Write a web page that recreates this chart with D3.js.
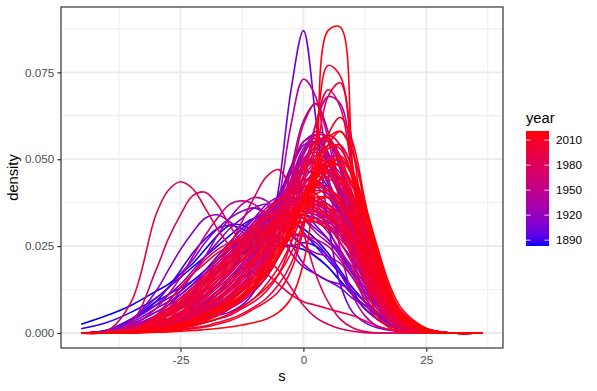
<!DOCTYPE html>
<html>
<head>
<meta charset="utf-8">
<script src="https://cdn.jsdelivr.net/npm/d3@7/dist/d3.min.js"></script>
<style>
    body { margin: 0; background: #fff; }
    text { font-family: "Liberation Sans", Arial, Helvetica, sans-serif; }
</style>
</head>
<body>
<script>
var sGrid = [-45.2, -40, -35, -30, -27.5, -25, -22.5, -20, -17.5, -15, -12.5, -10, -7.5, -5,
    -2.5, 0, 2.5, 5, 7.5, 10, 12.5, 15, 17.5, 20, 25, 30, 36.5];

var curveYears = [1883, 1884, 1885, 1886, 1887, 1888, 1889, 1891, 1892, 1894, 1895, 1897, 1898,
    1900, 1901, 1903, 1904, 1906, 1907, 1909, 1911, 1912, 1914, 1915, 1917, 1918, 1920, 1921,
    1923, 1924, 1926, 1927, 1929, 1930, 1932, 1933, 1935, 1936, 1938, 1939, 1941, 1942, 1944,
    1945, 1947, 1948, 1950, 1951, 1953, 1954, 1956, 1957, 1959, 1960, 1962, 1963, 1965, 1966,
    1968, 1969, 1971, 1972, 1974, 1975, 1976, 1977, 1978, 1979, 1980, 1981, 1982, 1983, 1984,
    1985, 1986, 1987, 1988, 1989, 1990, 1991, 1992, 1993, 1994, 1995, 1996, 1997, 1998, 1999,
    2000, 2001, 2002, 2003, 2004, 2005, 2006, 2007, 2008, 2009, 2010, 2011, 2012, 2013, 2014,
    2015, 2016, 2017, 2018, 2019, 2020, 2021];

// density of s for each year (x 1000), same order as curveYears, one value per sGrid point
var densityMilli = [
    [2.5, 5, 8, 12, 14, 17, 20, 24, 28, 31, 31, 29, 27, 26, 25, 24, 22, 19, 15, 11, 7, 4, 2, 1, 0.3, 0, 0], // 1883
    [0, 0.8, 4, 9, 11, 13, 15, 18, 21, 24, 27, 30, 32, 33, 32, 30, 27, 23, 18, 13, 9, 5.5, 3, 1.5, 0.3, 0, 0], // 1884
    [1.2, 3, 6, 10, 13, 16, 19, 22, 25, 28, 31, 33, 33, 31, 28, 25, 22, 19, 15, 11, 8, 5, 3, 1.5, 0.3, 0, 0], // 1885
    [0, 0.2, 1, 3, 4, 6, 8, 11, 14, 18, 22, 27, 32, 37, 41, 44, 44, 41, 35, 27, 19, 12, 7, 4, 1, 0, 0], // 1886
    [0, 0.3, 1.5, 4, 5, 7, 9, 11, 14, 17, 21, 25, 30, 36, 42, 46, 46, 42, 35, 26, 18, 11, 6, 3, 0.6, 0, 0], // 1887
    [0, 0.5, 3.5, 9, 13, 18, 23, 27, 30, 31, 30, 28, 26, 25, 25, 26, 25, 22, 17, 12, 7, 4, 2, 1, 0.2, 0, 0], // 1888
    [0, 0.8, 4, 8, 10, 12, 15, 18, 22, 26, 30, 33, 35, 35, 33, 29, 25, 21, 17, 13, 9, 6, 3.5, 2, 0.4, 0, 0], // 1889
    [0, 0.3, 1, 2, 3, 4, 6, 8, 11, 15, 20, 26, 33, 40, 46, 50, 49, 43, 34, 24, 15, 9, 5, 2.5, 0.5, 0, 0], // 1891
    [0, 0.3, 1.5, 4, 5, 7, 9, 12, 15, 18, 22, 26, 31, 37, 43, 48, 50, 47, 39, 28, 17, 9, 4.5, 2, 0.4, 0, 0], // 1892
    [0, 0.3, 1, 3, 5, 7, 10, 13, 17, 21, 25, 29, 33, 36, 38, 39, 38, 35, 30, 24, 18, 12, 7, 4, 1, 0, 0], // 1894
    [0, 0.6, 3, 7, 9, 11, 14, 17, 20, 24, 28, 32, 35, 37, 37, 35, 31, 27, 22, 17, 12, 8, 5, 3, 0.8, 0, 0], // 1895
    [0, 0.3, 1.5, 5, 7, 9, 12, 15, 18, 22, 26, 30, 35, 39, 41, 40, 36, 30, 23, 17, 12, 8, 5, 3, 1, 0, 0], // 1897
    [0, 0.2, 1.2, 3, 4, 5, 7, 9, 11, 14, 18, 23, 30, 39, 48, 55, 57, 52, 41, 28, 16, 8, 4, 2, 0.4, 0, 0], // 1898
    [0, 0.3, 1, 2, 2.5, 3, 3.5, 4, 5, 6, 8, 12, 22, 42, 70, 87, 62, 32, 14, 6, 3, 1.5, 0.8, 0.4, 0.1, 0, 0], // 1900
    [0, 0.5, 2.5, 6, 8, 10, 13, 16, 19, 22, 25, 28, 31, 33, 34, 34, 33, 31, 28, 24, 19, 13, 8, 4, 1, 0, 0], // 1901
    [0, 0.2, 0.6, 2, 3, 4, 6, 8, 10, 13, 17, 22, 29, 38, 47, 54, 55, 49, 39, 27, 16, 9, 4, 2, 0.4, 0, 0], // 1903
    [0, 0.3, 2, 5, 7, 9, 12, 15, 18, 21, 24, 27, 30, 33, 36, 38, 38, 36, 32, 26, 19, 12, 7, 3.5, 0.8, 0, 0], // 1904
    [0, 0.6, 4, 10, 13, 17, 21, 26, 30, 33, 35, 36, 34, 29, 23, 19, 17, 15, 13, 10, 8, 5, 3, 2, 0.5, 0, 0], // 1906
    [0, 0.2, 1.2, 3, 4, 5.5, 7, 9, 12, 15, 19, 24, 30, 37, 44, 50, 52, 49, 42, 32, 21, 12, 6, 2.5, 0.5, 0, 0], // 1907
    [0, 0.5, 3.5, 8, 11, 14, 18, 22, 26, 30, 33, 36, 37, 34, 26, 20, 17, 15, 14, 12, 9, 6, 3.5, 2, 0.5, 0, 0], // 1909
    [0, 0.3, 3.5, 12, 18, 24, 29, 33, 34, 32, 29, 27, 26, 27, 28, 28, 26, 22, 17, 11, 7, 4, 2, 1, 0.2, 0, 0], // 1911
    [0, 0.4, 2.5, 6, 8, 11, 14, 18, 22, 26, 30, 33, 35, 36, 35, 33, 30, 27, 23, 18, 13, 8, 4.5, 2.5, 0.6, 0, 0], // 1912
    [0, 0.2, 0.8, 2, 3, 5, 7, 9, 12, 15, 19, 24, 30, 37, 44, 50, 53, 51, 44, 33, 22, 13, 7, 3.5, 0.7, 0, 0], // 1914
    [0, 0.3, 1, 2.5, 3.5, 5, 7, 9, 12, 15, 19, 24, 30, 36, 42, 47, 50, 49, 44, 35, 24, 14, 7, 3, 0.5, 0, 0], // 1915
    [0, 0.2, 0.5, 1.5, 2, 3, 4, 5, 7, 9, 12, 16, 22, 32, 47, 61, 66, 58, 40, 22, 11, 5, 2.5, 1, 0.2, 0, 0], // 1917
    [0, 0.3, 1.5, 4.5, 6, 8, 11, 14, 17, 21, 25, 29, 32, 35, 37, 38, 38, 37, 34, 29, 22, 14, 8, 4, 0.8, 0, 0], // 1918
    [0, 0.3, 2, 5, 7, 9, 12, 15, 19, 23, 27, 31, 35, 38, 39, 38, 35, 31, 26, 21, 15, 10, 6, 3, 0.8, 0, 0], // 1920
    [0, 0.2, 0.6, 1.5, 2.5, 3.5, 5, 6.5, 8.5, 11, 14, 18, 24, 32, 42, 52, 58, 56, 47, 33, 19, 10, 4.5, 2, 0.3, 0, 0], // 1921
    [0, 0.1, 0.3, 1, 1.5, 2, 3, 4, 5, 7, 9, 12, 16, 22, 31, 45, 60, 68, 66, 48, 27, 12, 5, 2, 0.3, 0, 0], // 1923
    [0, 0.2, 1.5, 4.5, 6.5, 9, 12, 15, 18, 22, 26, 30, 33, 35, 36, 36, 35, 33, 30, 25, 18, 12, 6.5, 3, 0.6, 0, 0], // 1924
    [0, 0.3, 1, 3, 5, 7, 10, 13, 16, 20, 24, 29, 34, 38, 40, 40, 38, 34, 29, 23, 17, 11, 6, 3, 0.7, 0, 0], // 1926
    [0, 0.2, 0.7, 2, 3, 4.5, 6.5, 8.5, 11, 14, 18, 23, 29, 36, 44, 50, 53, 50, 42, 31, 20, 11, 5.5, 2.5, 0.4, 0, 0], // 1927
    [0, 0.2, 1.5, 5, 7, 10, 13, 17, 21, 25, 29, 33, 37, 39, 37, 33, 29, 26, 23, 19, 14, 9, 5, 2.5, 0.5, 0, 0], // 1929
    [0, 0.2, 1.2, 4, 6, 8.5, 11.5, 15, 19, 23, 27, 31, 34, 36, 37, 36, 34, 32, 29, 24, 18, 11, 6, 3, 0.6, 0, 0], // 1930
    [0, 0.3, 1.5, 5, 8, 12, 17, 22, 28, 33, 37, 39, 38, 34, 29, 25, 23, 22, 20, 16, 11, 7, 4, 2, 0.4, 0, 0], // 1932
    [0, 0.1, 0.5, 1.5, 2.5, 3.5, 5, 7, 9.5, 12.5, 16, 21, 27, 35, 44, 52, 55, 52, 42, 29, 17, 9, 4, 1.8, 0.3, 0, 0], // 1933
    [0, 0.2, 0.8, 2.5, 4, 6, 8, 11, 14, 18, 23, 28, 33, 38, 42, 44, 43, 40, 34, 26, 18, 11, 6, 3, 0.6, 0, 0], // 1935
    [0, 0.3, 1.2, 3.5, 5.5, 8, 11, 14, 18, 22, 26, 30, 33, 35, 36, 36, 35, 33, 30, 25, 19, 12, 7, 3.5, 0.7, 0, 0], // 1936
    [0, 0.1, 0.4, 1.5, 2, 3, 4.5, 6, 8, 11, 14, 19, 25, 33, 44, 53, 56, 51, 40, 27, 16, 9, 4.5, 2, 0.4, 0, 0], // 1938
    [0, 0.1, 0.4, 1.2, 2, 3, 4.5, 6, 8, 10.5, 14, 18, 24, 31, 40, 49, 55, 55, 48, 36, 22, 12, 5.5, 2.5, 0.4, 0, 0], // 1939
    [0, 0.2, 0.8, 2.5, 4, 5.5, 7.5, 10, 13, 16, 20, 25, 30, 35, 39, 42, 42, 39, 34, 27, 19, 12, 7, 3.5, 0.7, 0, 0], // 1941
    [0, 0.2, 1, 3, 5, 7.5, 10.5, 14, 18, 22, 26, 29, 32, 34, 35, 35, 34, 33, 31, 27, 21, 14, 8, 4, 0.8, 0, 0], // 1942
    [0, 0.1, 0.3, 1, 1.5, 2, 3, 4, 5, 7, 10, 14, 22, 38, 60, 73, 68, 46, 24, 11, 5, 2, 1, 0.4, 0, 0, 0], // 1944
    [0, 0.1, 0.5, 1.5, 2.5, 3.5, 5, 7, 9, 12, 15, 19, 25, 32, 40, 47, 51, 50, 44, 34, 22, 12, 6, 2.5, 0.4, 0, 0], // 1945
    [0, 0.3, 1, 3, 5, 7, 9, 12, 15, 19, 23, 27, 31, 35, 38, 39, 38, 36, 32, 26, 19, 12, 7, 3.5, 0.7, 0, 0], // 1947
    [0, 0.2, 1, 3, 5, 7, 10, 13, 16, 20, 24, 28, 32, 36, 38, 39, 38, 35, 31, 25, 18, 11, 6, 3, 0.6, 0, 0], // 1948
    [0, 0.3, 1.5, 4, 6, 8, 11, 14, 18, 22, 27, 32, 36, 38, 38, 36, 33, 29, 24, 18, 12, 7, 4, 2, 0.4, 0, 0], // 1950
    [0, 0.1, 0.3, 1, 1.8, 2.8, 4, 5.5, 7.5, 10, 13, 17, 22, 29, 38, 48, 55, 56, 49, 36, 22, 11, 5, 2, 0.3, 0, 0], // 1951
    [0, 0.1, 0.5, 1.5, 2.5, 3.5, 5, 7, 9, 12, 16, 21, 28, 37, 47, 55, 56, 50, 38, 25, 14, 7, 3.5, 1.5, 0.3, 0, 0], // 1953
    [0, 0.3, 1.5, 4.5, 7, 10, 13, 17, 21, 25, 28, 31, 33, 34, 34, 33, 32, 30, 28, 25, 20, 13, 7.5, 3.5, 0.7, 0, 0], // 1954
    [0, 0.2, 1, 3, 5, 7, 10, 13, 17, 21, 25, 30, 35, 39, 41, 40, 37, 33, 28, 22, 15, 9, 5, 2.5, 0.5, 0, 0], // 1956
    [0, 0.1, 0.5, 1.5, 2.5, 4, 5.5, 7.5, 10, 13, 17, 22, 28, 35, 42, 47, 49, 47, 41, 32, 22, 13, 6.5, 3, 0.5, 0, 0], // 1957
    [0, 0.3, 2, 7, 11, 16, 22, 28, 33, 37, 38, 37, 34, 31, 29, 28, 27, 25, 21, 16, 10, 6, 3, 1.5, 0.3, 0, 0], // 1959
    [0, 0.2, 1, 3.5, 5.5, 8, 11, 14, 18, 22, 26, 30, 33, 36, 38, 38, 37, 35, 31, 26, 19, 12, 6.5, 3, 0.6, 0, 0], // 1960
    [0, 0.1, 0.4, 1.5, 2.5, 4, 6, 8, 11, 14, 18, 23, 29, 36, 43, 48, 49, 46, 39, 30, 20, 12, 6, 3, 0.5, 0, 0], // 1962
    [0, 0.1, 0.3, 1, 1.6, 2.4, 3.5, 5, 7, 9.5, 13, 17, 23, 31, 41, 51, 57, 56, 47, 33, 19, 9.5, 4.5, 2, 0.3, 0, 0], // 1963
    [0, 0.2, 1, 4, 6, 9, 12, 16, 20, 24, 28, 31, 34, 36, 37, 37, 36, 34, 30, 24, 17, 11, 6, 3, 0.6, 0, 0], // 1965
    [0, 0.2, 0.8, 3, 5, 7, 9.5, 12.5, 16, 20, 24, 28, 32, 35, 37, 38, 38, 36, 32, 26, 19, 12, 6.5, 3, 0.6, 0, 0], // 1966
    [0, 0.1, 0.5, 2, 3, 5, 7, 9, 12, 15, 19, 24, 30, 37, 44, 49, 49, 44, 35, 25, 16, 9, 5, 2.5, 0.5, 0, 0], // 1968
    [0, 0.1, 0.4, 1.5, 2.5, 3.5, 5, 7, 9.5, 12.5, 16, 20, 25, 31, 38, 44, 48, 48, 45, 37, 26, 15, 7.5, 3.5, 0.6, 0, 0], // 1969
    [0, 0.2, 0.8, 3, 5, 7, 10, 13, 17, 21, 26, 31, 35, 38, 39, 38, 35, 31, 26, 20, 14, 9, 5, 2.5, 0.5, 0, 0], // 1971
    [0, 0.2, 1.2, 4, 6.5, 9, 12, 15.5, 19, 23, 27, 30, 33, 35, 36, 36, 35, 33, 30, 25, 18, 11, 6, 3, 0.6, 0, 0], // 1972
    [0, 0.1, 0.5, 2, 3, 4.5, 6.5, 9, 12, 16, 20, 25, 30, 35, 39, 42, 43, 41, 37, 30, 21, 13, 7, 3.5, 0.7, 0, 0], // 1974
    [0, 0.1, 0.6, 2.5, 4, 6, 8.5, 11, 14, 17.5, 21, 25, 29, 33, 37, 40, 41, 40, 36, 30, 22, 14, 7.5, 3.5, 0.7, 0, 0], // 1975
    [0, 0.1, 0.3, 1, 1.7, 2.6, 3.8, 5.3, 7.2, 9.5, 12.5, 16, 21, 28, 37, 47, 54, 56, 51, 40, 26, 14, 6.5, 2.8, 0.4, 0, 0], // 1976
    [0, 0, 0.3, 1.2, 2, 3, 4.5, 6, 8, 10.5, 13.5, 17, 22, 28, 35, 42, 47, 49, 46, 39, 28, 17, 9, 4, 0.7, 0, 0], // 1977
    [0, 0.2, 3, 18, 27, 34, 39.5, 40.5, 37, 31, 26, 23, 21, 18, 13, 8, 4.5, 2.5, 1.2, 0.5, 0.1, 0, 0, 0, 0, 0, 0], // 1978
    [0, 0.2, 1.2, 4.5, 7, 10, 13, 16, 19, 22, 25, 27, 29, 31, 33, 34, 35, 34, 32, 28, 22, 14, 8, 4, 0.8, 0, 0], // 1979
    [0, 0.1, 0.5, 1.5, 2.5, 4, 5.5, 7.5, 10, 13, 16, 20, 25, 31, 38, 45, 49, 49, 44, 35, 24, 14, 7, 3, 0.5, 0, 0], // 1980
    [0, 0.1, 0.3, 1, 1.5, 2, 3, 4, 5.5, 7.5, 10, 13, 18, 27, 44, 60, 66, 56, 37, 20, 9, 4, 2, 0.8, 0.1, 0, 0], // 1981
    [0, 0.1, 0.5, 1.5, 3, 5, 8, 12, 18, 25, 32, 39, 45, 47, 41, 29, 17, 9, 4, 1.5, 0.4, 0, 0, 0, 0, 0, 0], // 1982
    [0, 0.2, 1, 3.5, 5.5, 8, 11, 14, 17, 20, 23, 26, 29, 32, 35, 37, 38, 37, 34, 29, 22, 14, 8, 4, 0.8, 0, 0], // 1983
    [0, 0, 0.2, 0.8, 1.4, 2.2, 3.2, 4.5, 6, 8, 10.5, 13.5, 17.5, 23, 30, 39, 48, 54, 53, 45, 32, 18, 8.5, 3.5, 0.5, 0, 0], // 1984
    [0, 0, 0.2, 1, 1.5, 2.5, 4, 6, 8, 11, 15, 20, 26, 32, 38, 43, 46, 46, 42, 35, 26, 17, 9, 4, 0.7, 0, 0], // 1985
    [0, 0, 0.2, 0.8, 1.4, 2.2, 3.2, 4.5, 6, 8, 10.5, 14, 19, 26, 35, 45, 53, 57, 54, 44, 30, 16, 7.5, 3, 0.5, 0, 0], // 1986
    [0, 0.1, 0.6, 2.5, 4, 6, 8, 10.5, 13.5, 17, 21, 25, 29, 33, 37, 40, 42, 41, 38, 32, 24, 15, 8, 4, 0.8, 0, 0], // 1987
    [0, 0.5, 9, 34, 41, 43.5, 41.5, 36, 30, 25, 21, 19, 17, 14, 11, 9, 8, 7, 6, 5, 3.5, 2, 1, 0.3, 0, 0, 0], // 1988
    [0, 0, 0.1, 0.5, 1, 1.5, 2, 3, 4, 5, 7, 9, 12, 17, 26, 42, 60, 70, 65, 45, 24, 11, 5, 2, 0.3, 0, 0], // 1989
    [0, 0.1, 0.8, 3.5, 6, 9, 12, 15, 18, 21, 24, 27, 30, 33, 35, 37, 37, 36, 33, 28, 21, 14, 8, 4, 0.8, 0, 0], // 1990
    [0, 0.1, 0.5, 2, 3, 4.5, 6, 8, 10, 13, 16, 20, 24, 29, 34, 39, 43, 45, 44, 39, 31, 21, 12, 6, 1.2, 0, 0], // 1991
    [0, 0, 1, 5, 9, 13, 17, 21, 24, 26, 27, 28, 29, 30, 32, 34, 35, 34, 31, 26, 19, 12, 7, 3.5, 0.7, 0, 0], // 1992
    [0, 0, 0.3, 1.5, 2.5, 4, 6, 8, 11, 14, 18, 22, 27, 32, 37, 41, 43, 42, 38, 31, 22, 14, 8, 4, 0.8, 0, 0], // 1993
    [0, 0, 0.5, 3, 6, 9, 12, 15, 18, 21, 24, 27, 30, 33, 36, 38, 39, 37, 33, 27, 20, 13, 7, 3.5, 0.7, 0, 0], // 1994
    [0, 0, 0.2, 1, 2, 3, 4.5, 6, 8, 11, 14, 18, 23, 28, 34, 40, 45, 47, 45, 39, 29, 18, 10, 5, 1, 0, 0], // 1995
    [0, 0, 0.3, 2, 4, 7, 10, 14, 18, 22, 26, 29, 31, 32, 32, 32, 32, 32, 31, 28, 22, 15, 9, 4.5, 0.9, 0, 0], // 1996
    [0, 0.2, 1, 4, 6, 8, 11, 14, 18, 22, 26, 30, 33, 35, 35, 34, 32, 30, 27, 23, 18, 12, 7, 3.5, 0.7, 0, 0], // 1997
    [0, 0, 0.2, 1.5, 3, 5, 8, 11, 15, 19, 24, 29, 34, 38, 41, 42, 40, 36, 30, 23, 16, 10, 5.5, 2.5, 0.5, 0, 0], // 1998
    [0, 0, 0.1, 0.4, 0.7, 1, 1.5, 2, 3, 4, 5.5, 7.5, 10, 14, 20, 31, 50, 68, 72, 54, 29, 12, 5, 2, 0.3, 0, 0], // 1999
    [0, 0, 0.8, 5, 9, 13, 17, 20, 23, 25, 27, 28, 29, 30, 31, 32, 33, 33, 31, 27, 21, 14, 8, 4, 0.8, 0, 0], // 2000
    [0, 0, 0.3, 1.5, 2.5, 4, 5.5, 7.5, 10, 13, 16, 20, 24, 28, 33, 38, 42, 44, 43, 38, 29, 19, 11, 5.5, 1.2, 0, 0], // 2001
    [0, 0, 0.1, 0.5, 1, 1.5, 2.5, 3.5, 5, 7, 10, 14, 20, 28, 38, 48, 55, 56, 50, 38, 24, 13, 6, 2.5, 0.4, 0, 0], // 2002
    [0, 0.1, 0.8, 3, 5, 7, 10, 13, 16, 19, 22, 25, 28, 31, 34, 36, 37, 36, 33, 28, 21, 14, 8, 4, 0.8, 0, 0], // 2003
    [0, 0, 0.5, 3, 6, 9, 13, 17, 21, 25, 28, 31, 33, 34, 34, 33, 32, 31, 29, 26, 21, 15, 9, 4.5, 0.9, 0, 0], // 2004
    [0, 0, 0.2, 1, 2, 3, 4, 5.5, 7.5, 10, 13, 17, 21, 26, 32, 38, 43, 46, 45, 40, 31, 21, 12, 6, 1.2, 0, 0], // 2005
    [0, 0, 0.2, 1, 2, 3, 4.5, 6.5, 9, 12, 16, 21, 27, 34, 41, 47, 50, 49, 44, 36, 26, 16, 8, 3.5, 0.6, 0, 0], // 2006
    [0, 0, 0.1, 0.8, 1.5, 2.5, 3.5, 5, 7, 9, 12, 15, 19, 24, 30, 37, 44, 49, 50, 45, 35, 23, 12, 6, 1, 0, 0], // 2007
    [0, 0, 0.6, 4, 7, 10, 13, 16, 19, 22, 25, 28, 31, 33, 35, 36, 36, 34, 31, 26, 20, 13, 7.5, 3.5, 0.7, 0, 0], // 2008
    [0, 0, 0.1, 0.3, 0.5, 0.8, 1.2, 1.7, 2.5, 3.5, 5, 7, 9, 12, 18, 30, 55, 77, 74, 48, 22, 9, 3.5, 1.5, 0.2, 0, 0], // 2009
    [0, 0, 0.1, 0.4, 0.8, 1.2, 2, 3, 4, 5.5, 7.5, 10, 14, 19, 26, 35, 46, 57, 62, 55, 38, 20, 9, 3.5, 0.5, 0, 0], // 2010
    [0, 0, 0.2, 1, 1.8, 2.8, 4, 5.5, 7.5, 10, 13, 16, 20, 25, 31, 38, 45, 50, 51, 46, 36, 24, 13, 6, 1, 0, 0], // 2011
    [0, 0, 0.3, 2, 4, 6, 9, 12, 15, 18, 21, 24, 27, 30, 33, 36, 38, 39, 37, 33, 26, 17, 9.5, 4.5, 0.9, 0, 0], // 2012
    [0, 0, 0.4, 2, 3.5, 5, 7, 9.5, 12, 15, 18, 21, 25, 29, 33, 37, 40, 41, 39, 34, 26, 17, 10, 5, 1, 0, 0], // 2013
    [0, 0, 0.1, 0.6, 1.2, 2, 3, 4.5, 6, 8, 11, 15, 20, 26, 33, 40, 46, 49, 48, 42, 31, 19, 10, 4.5, 0.8, 0, 0], // 2014
    [0, 0, 0.2, 1, 1.5, 2.5, 3.5, 5, 6.5, 8.5, 11, 14, 18, 23, 29, 37, 46, 53, 54, 47, 34, 20, 10, 4.5, 0.8, 0, 0], // 2015
    [0, 0, 0.4, 3, 5, 8, 11, 14, 17, 20, 23, 26, 29, 32, 35, 37, 39, 39, 37, 32, 24, 15, 8.5, 4, 0.8, 0, 0], // 2016
    [0, 0, 0.1, 0.6, 1, 1.5, 2.2, 3, 4, 5.5, 7.5, 10, 13, 17, 23, 32, 44, 54, 58, 52, 37, 21, 10, 4, 0.6, 0, 0], // 2017
    [0, 0, 0.1, 0.5, 1, 1.6, 2.5, 3.5, 5, 7, 9.5, 12.5, 16.5, 22, 29, 38, 48, 56, 58, 52, 38, 22, 11, 4.5, 0.7, 0, 0], // 2018
    [0, 0, 0, 0.2, 0.3, 0.5, 0.7, 1, 1.3, 1.7, 2.3, 3, 4, 6, 10, 20, 43, 87, 88, 48, 18, 5, 1.5, 0.5, 0.1, 0, 0], // 2019
    [0, 0, 0.2, 1, 1.5, 2.5, 3.5, 5, 7, 9, 12, 15, 19, 24, 30, 37, 44, 48, 48, 43, 33, 21, 11, 5, 1, 0, 0], // 2020
    [0, 0, 0.1, 0.8, 1.3, 2, 3, 4.5, 6, 8, 10.5, 13.5, 17, 22, 28, 35, 42, 48, 50, 46, 37, 25, 14, 7, 1.4, 0, 0]  // 2021
];

var xTicks = [-25, 0, 25];
var yTicks = [0, 0.025, 0.05, 0.075];
var legendYears = [1890, 1920, 1950, 1980, 2010];

var width = 597,
    height = 391,
    panel = { left: 61, right: 503, top: 7, bottom: 348 };

var svg = d3.select("body")
    .append("svg")
    .attr("width", width)
    .attr("height", height);

var x = d3.scaleLinear().domain([-49.3, 40.6]).range([panel.left, panel.right]);
var y = d3.scaleLinear().domain([-0.00432, 0.0938]).range([panel.bottom, panel.top]);
var colour = d3.scaleLinear()
    .domain(d3.extent(curveYears))
    .range(["blue", "red"])
    .interpolate(d3.interpolateLab);

/**
 * minor breaks sit half way between the major ones
 */
function minorBreaks(ticks, domain) {
    var step = ticks[1] - ticks[0],
        out = [];
    for (var v = ticks[0] - step / 2; v <= domain[1]; v += step) {
        if (v >= domain[0]) out.push(v);
    }
    return out;
}

function drawPanel() {
    var g = svg.append("g").attr("class", "grid");

    g.selectAll(".xminor").data(minorBreaks(xTicks, x.domain())).enter()
        .append("line")
        .attr("x1", d => x(d)).attr("x2", d => x(d))
        .attr("y1", panel.top).attr("y2", panel.bottom)
        .attr("stroke", "#ebebeb").attr("stroke-width", 0.9);

    g.selectAll(".yminor").data(minorBreaks(yTicks, y.domain())).enter()
        .append("line")
        .attr("y1", d => y(d)).attr("y2", d => y(d))
        .attr("x1", panel.left).attr("x2", panel.right)
        .attr("stroke", "#ebebeb").attr("stroke-width", 0.9);

    g.selectAll(".xmajor").data(xTicks).enter()
        .append("line")
        .attr("x1", d => x(d)).attr("x2", d => x(d))
        .attr("y1", panel.top).attr("y2", panel.bottom)
        .attr("stroke", "#ebebeb").attr("stroke-width", 1.8);

    g.selectAll(".ymajor").data(yTicks).enter()
        .append("line")
        .attr("y1", d => y(d)).attr("y2", d => y(d))
        .attr("x1", panel.left).attr("x2", panel.right)
        .attr("stroke", "#ebebeb").attr("stroke-width", 1.8);
}

function drawCurves() {
    var line = d3.line()
        .x((d, i) => x(sGrid[i]))
        .y(d => y(d / 1000))
        .curve(d3.curveCatmullRom.alpha(0.5));

    svg.append("g")
        .attr("class", "curves")
        .selectAll("path")
        .data(densityMilli)
        .enter()
        .append("path")
        .attr("d", line)
        .attr("fill", "none")
        .attr("stroke", (d, i) => colour(curveYears[i]))
        .attr("stroke-width", 1.6)
        .attr("stroke-linejoin", "round");
}

function drawAxes() {
    svg.append("rect")
        .attr("x", panel.left).attr("y", panel.top)
        .attr("width", panel.right - panel.left)
        .attr("height", panel.bottom - panel.top)
        .attr("fill", "none")
        .attr("stroke", "#333333")
        .attr("stroke-width", 1.2);

    var xAxis = svg.append("g")
        .attr("transform", "translate(0," + panel.bottom + ")")
        .call(d3.axisBottom(x).tickValues(xTicks).tickSize(3.7).tickPadding(3.5).tickFormat(d3.format("d")));
    xAxis.select(".domain").remove();

    var yAxis = svg.append("g")
        .attr("transform", "translate(" + panel.left + ",0)")
        .call(d3.axisLeft(y).tickValues(yTicks).tickSize(3.7).tickPadding(3).tickFormat(d3.format(".3f")));
    yAxis.select(".domain").remove();

    svg.selectAll(".tick line").attr("stroke", "#333333").attr("stroke-width", 1.2);
    svg.selectAll(".tick text")
        .attr("fill", "#4d4d4d")
        .style("font-size", "11.7px")
        .style("font-family", "'Liberation Sans', Arial, sans-serif");
    // d3 puts a unicode minus in; ggplot uses a hyphen
    xAxis.selectAll(".tick text").text(d => String(d));

    svg.append("text")
        .attr("x", (panel.left + panel.right) / 2)
        .attr("y", 381)
        .style("text-anchor", "middle")
        .style("font-size", "14.7px")
        .text("s");

    svg.append("text")
        .attr("transform", "translate(18," + (panel.top + panel.bottom) / 2 + ") rotate(-90)")
        .style("text-anchor", "middle")
        .style("font-size", "14.7px")
        .text("density");
}

function drawLegend() {
    var bar = { x: 526, y: 131, w: 23, h: 115 };
    var yearScale = d3.scaleLinear().domain(colour.domain()).range([bar.y + bar.h, bar.y]);

    var grad = svg.append("defs").append("linearGradient")
        .attr("id", "yearGrad")
        .attr("x1", 0).attr("y1", 1).attr("x2", 0).attr("y2", 0);
    grad.selectAll("stop")
        .data(d3.range(0, 1.0001, 0.05))
        .enter()
        .append("stop")
        .attr("offset", d => d)
        .attr("stop-color", d => colour(colour.domain()[0] + d * (colour.domain()[1] - colour.domain()[0])));

    svg.append("text")
        .attr("x", bar.x)
        .attr("y", 123)
        .style("font-size", "14.7px")
        .text("year");

    svg.append("rect")
        .attr("x", bar.x).attr("y", bar.y)
        .attr("width", bar.w).attr("height", bar.h)
        .attr("fill", "url(#yearGrad)");

    var ticks = svg.append("g").selectAll("g").data(legendYears).enter().append("g");
    ticks.append("line")
        .attr("x1", bar.x).attr("x2", bar.x + bar.w / 5)
        .attr("y1", d => yearScale(d)).attr("y2", d => yearScale(d))
        .attr("stroke", "white").attr("stroke-opacity", 0.8);
    ticks.append("line")
        .attr("x1", bar.x + bar.w * 4 / 5).attr("x2", bar.x + bar.w)
        .attr("y1", d => yearScale(d)).attr("y2", d => yearScale(d))
        .attr("stroke", "white").attr("stroke-opacity", 0.8);
    ticks.append("text")
        .attr("x", 556)
        .attr("y", d => yearScale(d) + 4.2)
        .style("font-size", "11.7px")
        .text(d => d);
}

drawPanel();
drawCurves();
drawAxes();
drawLegend();
</script>
</body>
</html>
